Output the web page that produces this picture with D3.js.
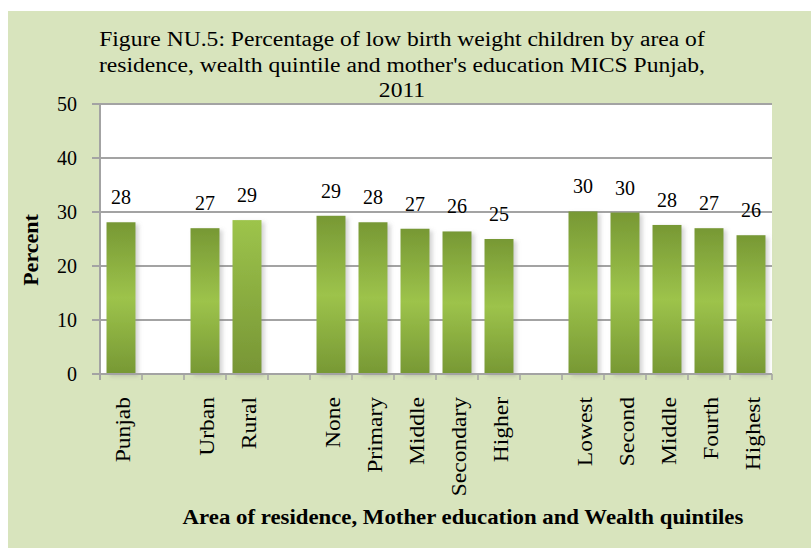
<!DOCTYPE html>
<html>
<head>
<meta charset="utf-8">
<script src="https://cdn.jsdelivr.net/npm/d3@7"></script>
<style>
  body { margin: 0; background: #ffffff; }
  svg { display: block; }
  text { font-family: "Liberation Serif", "DejaVu Serif", serif; fill: #000; }
</style>
</head>
<body>
<div id="chart"></div>
<script>
// categories (blank slots are the gaps between groups)
var categories = ["Punjab", "", "Urban", "Rural", "", "None", "Primary", "Middle", "Secondary", "Higher",
                  "", "Lowest", "Second", "Middle", "Fourth", "Highest"];
var values = [28.1, null, 27.0, 28.5, null, 29.3, 28.1, 26.9, 26.4, 25.0,
              null, 30.1, 29.9, 27.6, 27.0, 25.7];
var valueLabels = ["28", "", "27", "29", "", "29", "28", "27", "26", "25",
                   "", "30", "30", "28", "27", "26"];
var yTicks = [0, 10, 20, 30, 40, 50];
var titleLines = ["Figure NU.5: Percentage of low birth weight children by area of",
                  "residence, wealth quintile and mother's education MICS Punjab,",
                  "2011"];
var yTitle = "Percent";
var xTitle = "Area of residence, Mother education and Wealth quintiles";
var highlighted = 3; // the Rural bar is drawn lighter

var width = 811, height = 548;
var plot = {left: 100, right: 772, top: 104, bottom: 374};

var svg = d3.select("#chart")
    .append("svg")
    .attr("width", width)
    .attr("height", height);

var defs = svg.append("defs");

var grad = defs.append("linearGradient")
    .attr("id", "barGrad")
    .attr("x1", 0).attr("y1", 0).attr("x2", 0).attr("y2", 1);
grad.append("stop").attr("offset", "0%").attr("stop-color", "#779834");
grad.append("stop").attr("offset", "50%").attr("stop-color", "#9dc34b");
grad.append("stop").attr("offset", "100%").attr("stop-color", "#779834");

var grad2 = defs.append("linearGradient")
    .attr("id", "barGradLight")
    .attr("x1", 0).attr("y1", 0).attr("x2", 0).attr("y2", 1);
grad2.append("stop").attr("offset", "0%").attr("stop-color", "#9dc44b");
grad2.append("stop").attr("offset", "100%").attr("stop-color", "#779535");

var shadow = defs.append("filter")
    .attr("id", "shadow")
    .attr("x", "-20%").attr("y", "-10%")
    .attr("width", "150%").attr("height", "130%");
shadow.append("feDropShadow")
    .attr("dx", 3).attr("dy", 2)
    .attr("stdDeviation", 2)
    .attr("flood-color", "#808080")
    .attr("flood-opacity", 0.35);

// widen a Times-like font towards the Palatino widths of the original
function stretch(sel, k) {
    sel.each(function(){
        var len = this.getComputedTextLength();
        d3.select(this)
            .attr("textLength", len * k)
            .attr("lengthAdjust", "spacingAndGlyphs");
    });
}

// background
svg.append("rect")
    .attr("x", 8).attr("y", 11)
    .attr("width", width - 8).attr("height", height - 11)
    .style("fill", "#d8e4bd");

svg.append("rect")
    .attr("x", plot.left).attr("y", plot.top)
    .attr("width", plot.right - plot.left).attr("height", plot.bottom - plot.top)
    .style("fill", "#ffffff");

var x = d3.scaleBand()
    .domain(d3.range(categories.length))
    .range([plot.left, plot.right])
    .paddingInner(0.31)
    .paddingOuter(0.155);

var y = d3.scaleLinear()
    .domain([0, 50])
    .range([plot.bottom, plot.top]);

// gridlines + y ticks
svg.append("g")
    .selectAll("line")
    .data(yTicks)
    .enter()
    .append("line")
    .attr("x1", plot.left - 8)
    .attr("x2", plot.right)
    .attr("y1", function(d){ return y(d); })
    .attr("y2", function(d){ return y(d); })
    .style("stroke", "#a3a3a3")
    .style("stroke-width", 2);

svg.append("g")
    .selectAll("text")
    .data(yTicks)
    .enter()
    .append("text")
    .attr("x", 77)
    .attr("y", function(d){ return y(d); })
    .attr("dy", "0.33em")
    .attr("text-anchor", "end")
    .style("font-size", "20px")
    .text(function(d){ return d; });

// y axis line
svg.append("line")
    .attr("x1", plot.left).attr("x2", plot.left)
    .attr("y1", plot.top).attr("y2", plot.bottom + 6)
    .style("stroke", "#a3a3a3")
    .style("stroke-width", 2);

// bars
var barData = categories.map(function(c, i){
    return {i: i, name: c, value: values[i], label: valueLabels[i]};
}).filter(function(d){ return d.value !== null; });

svg.append("g")
    .selectAll("rect")
    .data(barData)
    .enter()
    .append("rect")
    .attr("x", function(d){ return x(d.i); })
    .attr("y", function(d){ return y(d.value); })
    .attr("width", x.bandwidth())
    .attr("height", function(d){ return y(0) - y(d.value); })
    .style("fill", function(d){ return d.i === highlighted ? "url(#barGradLight)" : "url(#barGrad)"; })
    .attr("filter", "url(#shadow)");

// value labels
svg.append("g")
    .selectAll("text")
    .data(barData)
    .enter()
    .append("text")
    .attr("x", function(d){ return x(d.i) + x.bandwidth() / 2; })
    .attr("y", function(d){ return y(d.value) - 18; })
    .attr("text-anchor", "middle")
    .style("font-size", "20px")
    .text(function(d){ return d.label; });

// x axis line and slot ticks
svg.append("line")
    .attr("x1", plot.left - 8).attr("x2", plot.right)
    .attr("y1", plot.bottom).attr("y2", plot.bottom)
    .style("stroke", "#a3a3a3")
    .style("stroke-width", 2);

var step = x.step();
svg.append("g")
    .selectAll("line")
    .data(d3.range(categories.length + 1))
    .enter()
    .append("line")
    .attr("x1", function(i){ return plot.left + i * step; })
    .attr("x2", function(i){ return plot.left + i * step; })
    .attr("y1", plot.bottom)
    .attr("y2", plot.bottom + 6)
    .style("stroke", "#a3a3a3")
    .style("stroke-width", 1.5);

// rotated category labels
svg.append("g")
    .selectAll("text")
    .data(categories.map(function(c, i){ return {i: i, name: c}; }).filter(function(d){ return d.name !== ""; }))
    .enter()
    .append("text")
    .attr("transform", function(d){
        return "translate(" + (x(d.i) + x.bandwidth() / 2 + 2) + ", 397) rotate(-90)";
    })
    .attr("dy", "0.33em")
    .attr("text-anchor", "end")
    .style("font-size", "21px")
    .text(function(d){ return d.name; })
    .call(stretch, 1.12);

// title
svg.append("g")
    .selectAll("text")
    .data(titleLines)
    .enter()
    .append("text")
    .attr("x", 402)
    .attr("y", function(d, i){ return 46 + i * 25.5; })
    .attr("text-anchor", "middle")
    .style("font-size", "20.5px")
    .text(function(d){ return d; })
    .call(stretch, 1.15);

// axis titles
svg.append("text")
    .attr("transform", "translate(38, 250) rotate(-90)")
    .attr("text-anchor", "middle")
    .style("font-size", "20px")
    .style("font-weight", "bold")
    .text(yTitle)
    .call(stretch, 1.1);

svg.append("text")
    .attr("x", 463)
    .attr("y", 524)
    .attr("text-anchor", "middle")
    .style("font-size", "20px")
    .style("font-weight", "bold")
    .text(xTitle)
    .call(stretch, 1.14);
</script>
</body>
</html>
